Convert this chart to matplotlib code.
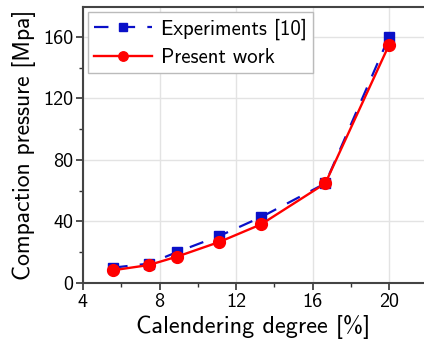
import matplotlib
matplotlib.use("Agg")
import matplotlib.pyplot as plt
from matplotlib.ticker import MultipleLocator

# Calendering degree [%] and compaction pressure [MPa]
exp_degree = [5.58, 7.45, 8.93, 11.13, 13.32, 16.67, 20.0]
exp_pressure = [10.0, 12.6, 20.2, 30.6, 42.9, 64.8, 160.0]
sim_degree = [5.58, 7.45, 8.93, 11.13, 13.32, 16.67, 20.0]
sim_pressure = [8.3, 11.7, 17.2, 26.7, 38.2, 64.8, 154.8]

x_ticks = [4, 8, 12, 16, 20]
y_ticks = [0, 40, 80, 120, 160]

plt.rcParams["font.family"] = ["cmss10", "DejaVu Sans"]
plt.rcParams["axes.unicode_minus"] = False

fig = plt.figure(figsize=(4.24, 3.48), dpi=100)
ax = fig.add_axes([83 / 424, 1 - 283 / 348, (424 - 83) / 424, (283 - 7) / 348])

ax.plot(exp_degree, exp_pressure, color="#0a10c8", lw=1.6, ls=(0, (6.5, 5.5)),
        marker="s", ms=7, label="Experiments [10]", zorder=3)
ax.plot(sim_degree, sim_pressure, color="#ff0000", lw=1.7, ls="-",
        marker="o", ms=8.5, label="Present work", zorder=4)

ax.set_xlim(4, 21.83)
ax.set_ylim(0, 179.5)
ax.set_xticks(x_ticks)
ax.set_yticks(y_ticks)
ax.xaxis.set_minor_locator(MultipleLocator(2))
ax.yaxis.set_minor_locator(MultipleLocator(20))
ax.tick_params(which="major", direction="out", length=5, width=1.2,
               labelsize=14.5, color="#333333", pad=2)
ax.tick_params(which="minor", direction="out", length=3, width=1.0, color="#333333")
ax.grid(True, which="major", color="#e3e3e3", lw=1.0)
ax.set_axisbelow(True)

for side in ("left", "bottom", "top"):
    ax.spines[side].set_color("#444444")
    ax.spines[side].set_linewidth(1.5)
ax.spines["right"].set_visible(False)

ax.set_xlabel("Calendering degree [%]", fontsize=17.5, labelpad=3)
ax.set_ylabel("Compaction pressure [Mpa]", fontsize=17, labelpad=5)

leg = ax.legend(loc="upper left", fontsize=15, frameon=True, fancybox=False,
                edgecolor="#bbbbbb", framealpha=1, handlelength=2.75,
                borderaxespad=0.25, labelspacing=0.4, handletextpad=0.45,
                borderpad=0.3, markerscale=0.8)
leg.get_frame().set_linewidth(1.0)

fig.savefig("out.png", dpi=100)
